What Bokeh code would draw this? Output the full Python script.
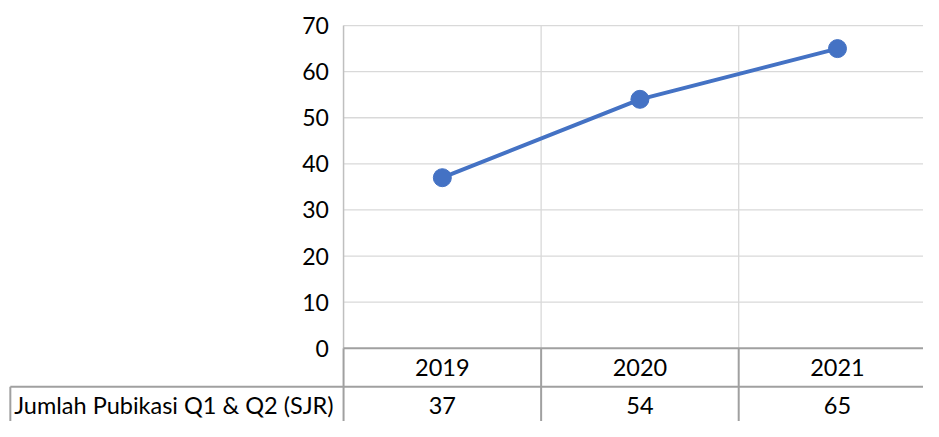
from bokeh.plotting import figure
from bokeh.models import ColumnDataSource, Range1d
from bokeh.core.properties import value
from bokeh.embed import file_html
from bokeh.resources import INLINE

# ---- data ----
years = ["2019", "2020", "2021"]
counts = [37, 54, 65]
series_name = "Jumlah Pubikasi Q1 & Q2 (SJR)"
y_ticks = [0, 10, 20, 30, 40, 50, 60, 70]

# ---- layout (reference pixel geometry mapped to data units) ----
W, H = 923, 421
REF_W, REF_H = 939, 437
PLOT_LEFT = 349      # ref px of plot-area left edge
CAT_W = 201          # ref px per category
ZERO_Y = 361         # ref px of value 0
PX_PER_UNIT = (361 - 26) / 70.0

def ux(px):
    return (px - PLOT_LEFT) / CAT_W

def vy(py):
    return (ZERO_Y - py) / PX_PER_UNIT

FONT = "Lato"
n = len(years)
xc = [i + 0.5 for i in range(n)]
ymax = y_ticks[-1]

p = figure(width=W, height=H, output_backend="svg", toolbar_location=None,
           x_range=Range1d(ux(0), ux(REF_W)), y_range=Range1d(vy(REF_H), vy(0)),
           min_border=0, min_border_left=0, min_border_right=0,
           min_border_top=0, min_border_bottom=0)
p.xaxis.visible = False
p.yaxis.visible = False
p.grid.visible = False
p.outline_line_color = None
p.background_fill_color = "white"
p.border_fill_color = "white"

# horizontal gridlines
gt = [t for t in y_ticks if t > 0]
p.segment(x0=[0] * len(gt), x1=[n] * len(gt), y0=gt, y1=gt,
          line_color="#d9d9d9", line_width=1.3)
# vertical gridlines at category boundaries
vb = list(range(1, n + 1))
p.segment(x0=vb, x1=vb, y0=[0] * len(vb), y1=[ymax] * len(vb),
          line_color="#d9d9d9", line_width=1.3)
# left plot edge (value axis line)
p.segment(x0=[0], x1=[0], y0=[0], y1=[ymax], line_color="#bfbfbf", line_width=1.5)

# data table grid
row_sep = vy(401)
bottom = vy(REF_H + 20)
label_left = ux(10)
TABLE = "#a0a0a0"
p.segment(x0=[0], x1=[n], y0=[0], y1=[0], line_color=TABLE, line_width=2)
p.segment(x0=[label_left], x1=[n], y0=[row_sep], y1=[row_sep], line_color=TABLE, line_width=2)
tb = list(range(0, n + 1))
p.segment(x0=tb, x1=tb, y0=[0] * len(tb), y1=[bottom] * len(tb), line_color=TABLE, line_width=2)
p.segment(x0=[label_left], x1=[label_left], y0=[row_sep], y1=[bottom], line_color=TABLE, line_width=2)

# line series
src = ColumnDataSource(dict(x=xc, y=counts))
p.line("x", "y", source=src, line_color="#4472C4", line_width=4)
p.scatter("x", "y", source=src, size=18, marker="circle",
          fill_color="#4472C4", line_color="#4472C4")

# y tick labels
p.text(x=[ux(334)] * len(y_ticks), y=y_ticks, text=[str(t) for t in y_ticks],
       text_align="right", text_baseline="middle", text_font=value(FONT),
       text_font_size="23px", text_color="#000000")

# table: years row
p.text(x=xc, y=[vy(381)] * n, text=years, text_align="center", text_baseline="middle",
       text_font=value(FONT), text_font_size="23.5px", text_color="#000000")
# table: values row
p.text(x=xc, y=[vy(420)] * n, text=[str(c) for c in counts], text_align="center",
       text_baseline="middle", text_font=value(FONT), text_font_size="23.5px",
       text_color="#000000")
p.text(x=[ux(14)], y=[vy(420)], text=[series_name], text_align="left",
       text_baseline="middle", text_font=value(FONT), text_font_size="23.5px",
       text_color="#000000")

open("out.html", "w").write(file_html(p, INLINE))
